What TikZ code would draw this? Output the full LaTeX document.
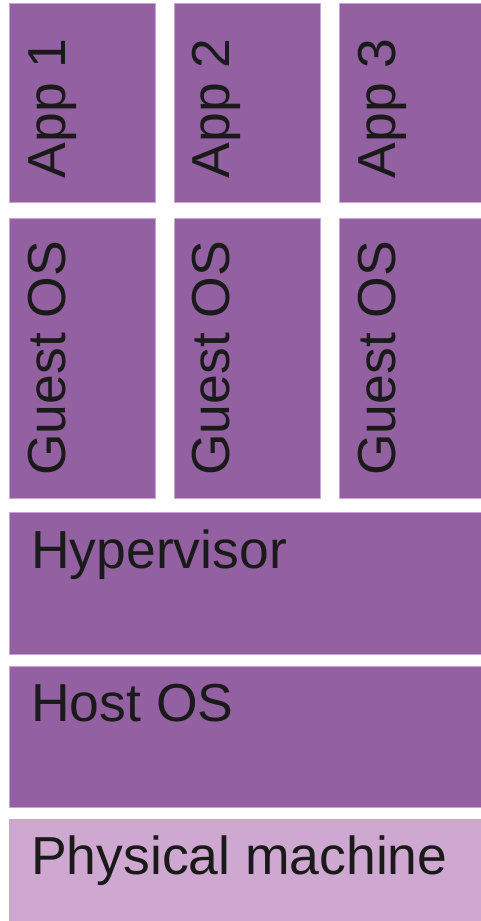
\documentclass[tikz,border=0pt]{standalone}
\usepackage{fontspec}
\setmainfont{Liberation Sans}
\definecolor{layer}{RGB}{147,96,161}
\definecolor{base}{RGB}{207,168,209}
\definecolor{rim}{RGB}{200,165,215}
\definecolor{ink}{RGB}{26,26,26}
\tikzset{
  layerbox/.style={fill=layer, draw=rim, line width=0.8pt, inner sep=0pt, anchor=north west},
  basebox/.style={fill=base, draw=rim, line width=0.8pt, inner sep=0pt, anchor=north west},
  vlabel/.style={rotate=90, anchor=base west, inner sep=0pt, text=ink, font=\fontsize{53.5}{64}\selectfont},
  hlabel/.style={anchor=base west, inner sep=0pt, text=ink, font=\fontsize{53.5}{64}\selectfont},
}
\begin{document}
\begin{tikzpicture}[x=1pt,y=-1pt]
\useasboundingbox (0,0) rectangle (481,921);
% three virtual machines: application on top of a guest OS
\foreach \i/\x in {1/9.3, 2/173.5, 3/339.3} {
  \node[layerbox, minimum width=146pt, minimum height=198.5pt] (app\i) at (\x,3.3) {};
  \node[layerbox, minimum width=146pt, minimum height=279.5pt] (guest\i) at (\x,218.3) {};
  \node[vlabel] (applbl\i) at (\x+56.4,178.5) {App \i};
  \node[vlabel] (guestlbl\i) at (\x+56.4,476) {Guest OS};
}
% shared layers below
\node[layerbox, minimum width=480pt, minimum height=141.7pt] (hyp) at (9.3,512.3) {};
\node[hlabel] (hyplbl) at (31,568.3) {Hypervisor};
\node[layerbox, minimum width=480pt, minimum height=141pt] (host) at (9.3,665.7) {};
\node[hlabel] (hostlbl) at (31,721.7) {Host OS};
\node[basebox, minimum width=480pt, minimum height=110pt] (hw) at (9.3,819) {};
\node[hlabel] (hwlbl) at (31,874) {Physical machine};
\end{tikzpicture}
\end{document}
